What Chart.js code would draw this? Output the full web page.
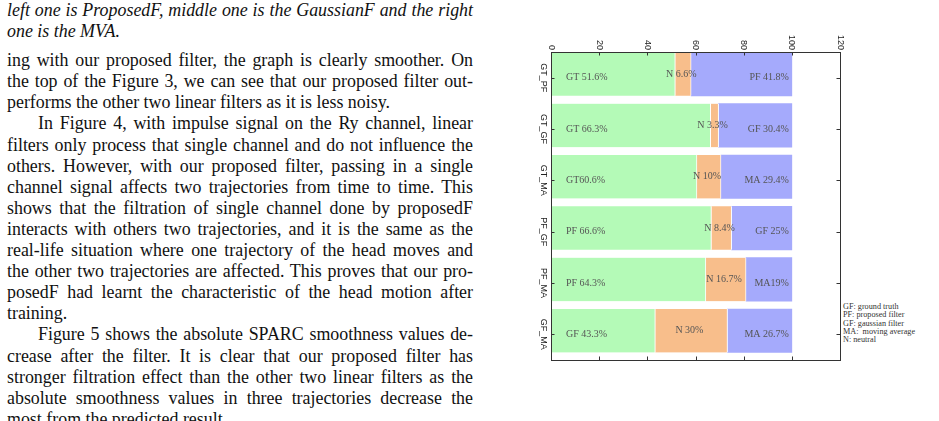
<!DOCTYPE html>
<html>
<head>
<meta charset="utf-8">
<script src="https://cdn.jsdelivr.net/npm/chart.js@4.4.1/dist/chart.umd.min.js"></script>
<style>
html, body { margin: 0; padding: 0; background: #fff; width: 939px; height: 421px; overflow: hidden; }
#texto { position: absolute; left: 7px; top: 0px; width: 466px; font-family: "Liberation Serif", "Times New Roman", serif; font-size: 17.9px; line-height: 21.1px; color: #111; }
#texto div { height: 21.1px; text-align: justify; text-align-last: justify; }
#texto div.fin { text-align-last: left; }
#texto div.sang { padding-left: 31px; }
#texto .cap { font-style: italic; }
#texto .hueco { height: 8px; }
#notas { position: absolute; left: 843px; top: 303px; font-family: "Liberation Serif", serif; font-size: 8.2px; line-height: 8.3px; color: #333; white-space: pre; }
#grafico { position: absolute; left: 0; top: 0; }
</style>
</head>
<body>
<div id="texto">
  <div class="cap">left one is ProposedF, middle one is the GaussianF and the right</div>
  <div class="cap fin">one is the MVA.</div>
  <div class="hueco"></div>
  <div>ing with our proposed filter, the graph is clearly smoother. On</div>
  <div>the top of the Figure 3, we can see that our proposed filter out-</div>
  <div class="fin">performs the other two linear filters as it is less noisy.</div>
  <div class="sang">In Figure 4, with impulse signal on the Ry channel, linear</div>
  <div>filters only process that single channel and do not influence the</div>
  <div>others. However, with our proposed filter, passing in a single</div>
  <div>channel signal affects two trajectories from time to time. This</div>
  <div>shows that the filtration of single channel done by proposedF</div>
  <div>interacts with others two trajectories, and it is the same as the</div>
  <div>real-life situation where one trajectory of the head moves and</div>
  <div>the other two trajectories are affected. This proves that our pro-</div>
  <div>posedF had learnt the characteristic of the head motion after</div>
  <div class="fin">training.</div>
  <div class="sang">Figure 5 shows the absolute SPARC smoothness values de-</div>
  <div>crease after the filter. It is clear that our proposed filter has</div>
  <div>stronger filtration effect than the other two linear filters as the</div>
  <div>absolute smoothness values in three trajectories decrease the</div>
  <div class="fin">most from the predicted result.</div>
</div>
<div id="notas"></div>
<canvas id="grafico" width="939" height="421"></canvas>
<script>
const categorias = ['GT_PF', 'GT_GF', 'GT_MA', 'PF_GF', 'PF_MA', 'GF_MA'];
const ganador = [51.6, 66.3, 60.6, 66.6, 64.3, 43.3];
const neutral = [6.6, 3.3, 10, 8.4, 16.7, 30];
const otro = [41.8, 30.4, 29.4, 25, 19, 26.7];
const textosGanador = ['GT 51.6%', 'GT 66.3%', 'GT60.6%', 'PF 66.6%', 'PF 64.3%', 'GF 43.3%'];
const textosNeutral = ['N 6.6%', 'N 3.3%', 'N 10%', 'N 8.4%', 'N 16.7%', 'N 30%'];
const textosOtro = ['PF 41.8%', 'GF 30.4%', 'MA 29.4%', 'GF 25%', 'MA19%', 'MA 26.7%'];
const ticksX = [0, 20, 40, 60, 80, 100, 120];
const notas = ['GF: ground truth', 'PF: proposed filter', 'GF: gaussian filter', 'MA:  moving average', 'N: neutral'];

document.getElementById('notas').textContent = notas.join('\n');

// las barras van algo desplazadas hacia arriba respecto a los ticks, por eso usan su propio eje
const enFila = vals => vals.map((v, i) => ({ x: v, y: i }));

// marco, ticks hacia dentro y textos girados (como en la figura original)
const marco = {
    id: 'marco',
    afterDraw(chart) {
        const ctx = chart.ctx;
        const a = chart.chartArea;
        const sx = chart.scales.x, sy = chart.scales.y;
        const t = 3.5;
        ctx.save();
        ctx.strokeStyle = '#333';
        ctx.lineWidth = 1;
        ctx.strokeRect(Math.round(a.left) + 0.5, Math.round(a.top) + 0.5, Math.round(a.right - a.left), Math.round(a.bottom - a.top));

        ctx.beginPath();
        ticksX.forEach(v => {
            const x = Math.round(sx.getPixelForValue(v)) + 0.5;
            ctx.moveTo(x, a.top); ctx.lineTo(x, a.top + t);
            ctx.moveTo(x, a.bottom); ctx.lineTo(x, a.bottom - t);
        });
        categorias.forEach((c, i) => {
            const y = Math.round(sy.getPixelForValue(i)) + 0.5;
            ctx.moveTo(a.left, y); ctx.lineTo(a.left + t, y);
            ctx.moveTo(a.right, y); ctx.lineTo(a.right - t, y);
        });
        ctx.stroke();

        ctx.fillStyle = '#222';
        ctx.font = '9px "Liberation Sans", Arial, sans-serif';
        ctx.textBaseline = 'middle';
        ticksX.forEach(v => {
            ctx.save();
            ctx.translate(sx.getPixelForValue(v), a.top - 2);
            ctx.rotate(Math.PI / 2);
            ctx.textAlign = 'right';
            ctx.fillText(String(v), 0, 0);
            ctx.restore();
        });
        categorias.forEach((c, i) => {
            ctx.save();
            ctx.translate(a.left - 8, sy.getPixelForValue(i));
            ctx.rotate(Math.PI / 2);
            ctx.textAlign = 'center';
            ctx.fillText(c, 0, 0);
            ctx.restore();
        });

        // textos dentro de las barras
        ctx.font = '10px "Liberation Serif", "Times New Roman", serif';
        ctx.fillStyle = '#555';
        const m0 = chart.getDatasetMeta(0).data;
        const m1 = chart.getDatasetMeta(1).data;
        const m2 = chart.getDatasetMeta(2).data;
        categorias.forEach((c, i) => {
            const y = sy.getPixelForValue(i);
            ctx.textAlign = 'left';
            ctx.fillText(textosGanador[i], m0[i].base + 15, y);
            ctx.textAlign = 'center';
            ctx.fillText(textosNeutral[i], (m1[i].base + m1[i].x) / 2 - 2, m1[i].y);
            ctx.textAlign = 'right';
            ctx.fillText(textosOtro[i], m2[i].x - 3, y);
        });
        ctx.restore();
    }
};

new Chart(document.getElementById('grafico'), {
    type: 'bar',
    data: {
        labels: categorias,
        datasets: [
            { label: 'ganador', data: enFila(ganador), yAxisID: 'yb', backgroundColor: '#b4fab7', borderColor: '#fff', borderWidth: { top: 0, bottom: 0, left: 0, right: 1 }, borderSkipped: false },
            { label: 'neutral', data: enFila(neutral), yAxisID: 'yb', backgroundColor: '#f8be8b', borderColor: '#fff', borderWidth: { top: 0, bottom: 0, left: 0, right: 1 }, borderSkipped: false },
            { label: 'otro', data: enFila(otro), yAxisID: 'yb', backgroundColor: '#a5aafc', borderWidth: 0 }
        ]
    },
    options: {
        indexAxis: 'y',
        responsive: false,
        devicePixelRatio: 1,
        animation: false,
        barThickness: 43.5,
        layout: { padding: { left: 551, top: 52, right: 99, bottom: 61 } },
        plugins: { legend: { display: false }, tooltip: { enabled: false } },
        scales: {
            x: { type: 'linear', position: 'top', min: 0, max: 120, stacked: true, display: false },
            y: { type: 'category', offset: true, display: false },
            yb: { type: 'linear', axis: 'y', reverse: true, offset: false, min: -0.43, max: 5.57, stacked: true, display: false }
        }
    },
    plugins: [marco]
});
</script>
</body>
</html>
